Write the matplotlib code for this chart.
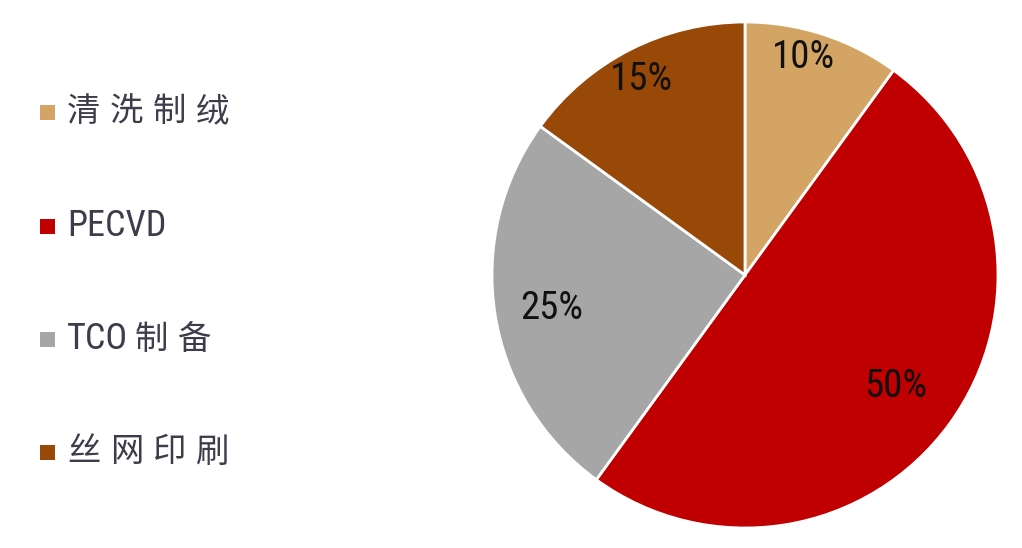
import numpy as np
import matplotlib.pyplot as plt
from matplotlib.patches import Rectangle

# data
labels = ['清洗制绒', 'PECVD', 'TCO制备', '丝网印刷']
shares = [10, 50, 25, 15]
colors = ['#D3A464', '#C00000', '#A6A6A6', '#984807']

# where the percentage sits in each wedge: distance from centre and angle nudge (deg)
pct_dist = [0.89, 0.74, 0.775, 0.875]
pct_nudge = [3, -0.5, 0.7, 1]

latin = ['Roboto Condensed', 'Archivo Narrow', 'PT Sans Narrow', 'Liberation Sans']
cjk = ['Noto Sans CJK SC']

W, H = 1022, 548
fig = plt.figure(figsize=(W / 100, H / 100), dpi=100)
fig.patch.set_facecolor('white')

# pie centre ~ (745, 275) px, radius ~253 px
ax = fig.add_axes([492 / W, 20 / H, 506 / W, 506 / H])
wedges, _ = ax.pie(shares, colors=colors, startangle=90, counterclock=False,
                   radius=1, wedgeprops=dict(edgecolor='white', linewidth=2))
ax.set_xlim(-1, 1)
ax.set_ylim(-1, 1)
ax.set_aspect('equal')
ax.axis('off')

for w, v, d, n in zip(wedges, shares, pct_dist, pct_nudge):
    ang = np.deg2rad((w.theta1 + w.theta2) / 2 + n)
    ax.text(d * np.cos(ang), d * np.sin(ang), f'{v}%', ha='center', va='center',
            fontsize=28, color='#111111', family=latin)

# legend on the left; CJK characters are spaced out like the original
renderer = fig.canvas.get_renderer()
row_y = [112, 226, 339, 452]
cjk_step = 43
for lab, col, y in zip(labels, colors, row_y):
    fig.patches.append(Rectangle((40 / W, 1 - (y + 7.5) / H), 15 / W, 15 / H,
                                 transform=fig.transFigure, facecolor=col,
                                 edgecolor='none'))
    x = 67
    run = ''
    for ch in lab + '\0':
        if ch.isascii() and ch != '\0':
            run += ch
            continue
        if run:
            t = fig.text(x / W, 1 - y / H, run, ha='left', va='center', fontsize=26,
                         color='#3c3c4a', family=latin)
            x += t.get_window_extent(renderer).width + 6
            run = ''
        if ch != '\0':
            fig.text(x / W, 1 - y / H, ch, ha='left', va='center', fontsize=24,
                     color='#3c3c4a', family=cjk)
            x += cjk_step

fig.savefig('out.png', dpi=100)
